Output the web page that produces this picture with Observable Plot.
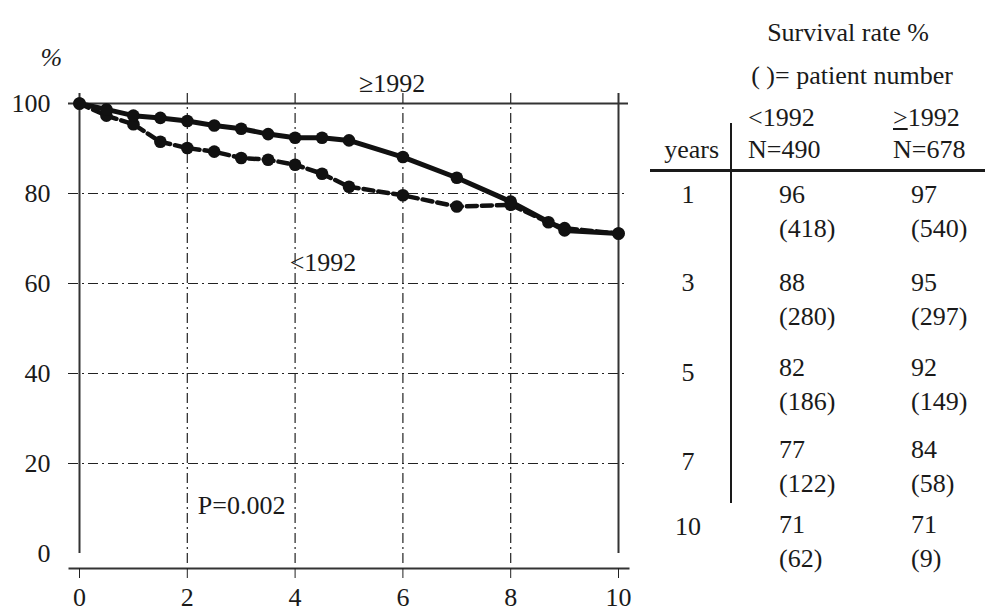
<!DOCTYPE html>
<html><head><meta charset="utf-8">
<script src="https://cdn.jsdelivr.net/npm/d3@7"></script>
<script src="https://cdn.jsdelivr.net/npm/@observablehq/plot@0.6"></script>
<style>
body{margin:0;background:#fff;}
#wrap{position:relative;width:985px;height:613px;font-family:"Liberation Serif","Times New Roman",serif;font-size:26px;color:#1a1a1a;overflow:hidden;}
#chart{position:absolute;left:0;top:0;}
#chart svg, #chart svg text{font-family:"Liberation Serif","Times New Roman",serif !important;}
.t{position:absolute;white-space:nowrap;line-height:1;}
.ln{position:absolute;background:#1a1a1a;}
</style></head><body><div id="wrap"><div id="chart"></div></div>
<script>
// ≥1992 group (solid line)
const yearsAfter = [0,0.5,1,1.5,2,2.5,3,3.5,4,4.5,5,6,7,8,9,10];
const survAfter  = [100,98.7,97.3,96.8,96.1,95.1,94.4,93.2,92.4,92.4,91.8,88.1,83.5,78.2,71.8,71.1];
// <1992 group (dashed line)
const yearsBefore = [0,0.5,1,1.5,2,2.5,3,3.5,4,4.5,5,6,7,8,8.7,9,10];
const survBefore  = [100,97.3,95.4,91.5,90.1,89.3,87.9,87.5,86.4,84.4,81.5,79.6,77.1,77.5,73.6,72.3,71.1];

const xTicks = [0,2,4,6,8,10];
const yTicks = [0,20,40,60,80,100];
const gridX = [2,4,6,8];
const gridY = [20,40,60,80];

// table
const tableYears   = [1,3,5,7,10];
const rateBefore   = [96,88,82,77,71];
const countBefore  = [418,280,186,122,62];
const rateAfter    = [97,95,92,84,71];
const countAfter   = [540,297,149,58,9];

const labelAfter  = [{x:5.8, y:104.4, label:"≥1992"}];
const labelBefore = [{x:3.9, y:64.7, label:"<1992"}];
const labelP      = [{x:3.82, y:10.7, label:"P=0.002"}];

const after = yearsAfter.map((t,i)=>({t, s:survAfter[i]}));
const before = yearsBefore.map((t,i)=>({t, s:survBefore[i]}));

const dashdot = "10,4,2,4";
const plot = Plot.plot({
  width:640, height:613,
  marginLeft:79, marginRight:22, marginTop:103, marginBottom:45,
  style:{fontFamily:"Liberation Serif, Times New Roman, serif", fontSize:"26px", color:"#1a1a1a", background:"white", overflow:"visible"},
  x:{domain:[0,10]},
  y:{domain:[-3.33,100]},
  marks:[
    Plot.ruleY(gridY,{stroke:"#222", strokeWidth:1.2, strokeDasharray:dashdot, insetLeft:-11, insetRight:-10}),
    Plot.ruleY([100],{stroke:"#333", strokeWidth:2, insetLeft:-11, insetRight:-10}),
    Plot.ruleX(gridX,{stroke:"#222", strokeWidth:1.2, strokeDasharray:dashdot, insetTop:-10, insetBottom:4}),
    Plot.ruleX([0,10],{stroke:"#333", strokeWidth:2, insetTop:-10, insetBottom:15}),
    Plot.frame({anchor:"bottom", stroke:"#333", strokeWidth:2, insetLeft:-10, insetRight:-10}),
    Plot.axisX({ticks:xTicks, tickSize:10, tickPadding:9, tickFormat:d=>String(d), label:null, stroke:"#222"}),
    Plot.axisY({ticks:yTicks, tickSize:0, tickPadding:29, tickFormat:d=>String(d), label:null}),
    Plot.text(["%"],{frameAnchor:"top-left", dx:-39, dy:-56, fontStyle:"italic"}),
    Plot.line(before,{x:"t", y:"s", stroke:"#111", strokeWidth:4.5, strokeDasharray:"10,5"}),
    Plot.dot(before,{x:"t", y:"s", r:6.3, fill:"#111"}),
    Plot.line(after,{x:"t", y:"s", stroke:"#111", strokeWidth:5}),
    Plot.dot(after,{x:"t", y:"s", r:6.3, fill:"#111"}),
    Plot.text(labelAfter,{x:"x", y:"y", text:"label", textAnchor:"middle", fill:"#1a1a1a"}),
    Plot.text(labelBefore,{x:"x", y:"y", text:"label", textAnchor:"start", fill:"#1a1a1a"}),
    Plot.text(labelP,{x:"x", y:"y", text:"label", textAnchor:"end", fill:"#1a1a1a"})
  ]
});
document.getElementById("chart").append(plot);

const wrap = document.getElementById("wrap");
function place(html, x, y, align){
  const d = document.createElement("div");
  d.className = "t";
  d.innerHTML = html;
  d.style.left = x + "px";
  d.style.top = y + "px";
  const tx = align==="center" ? "-50%" : align==="right" ? "-100%" : "0";
  d.style.transform = `translate(${tx},-50%)`;
  wrap.append(d);
}
function line(x,y,w,h){
  const d = document.createElement("div");
  d.className = "ln";
  Object.assign(d.style,{left:x+"px",top:y+"px",width:w+"px",height:h+"px"});
  wrap.append(d);
}
place("Survival rate %", 848, 33, "center");
place("(&nbsp;)= patient number", 852, 76, "center");
place("&lt;1992", 748, 118, "left");
place("N=490", 748, 150, "left");
place("<u>&gt;</u>1992", 893, 118, "left");
place("N=678", 893, 150, "left");
place("years", 719, 150, "right");
line(650,169,335,3);
line(730,123,2,380);
const rateY = [195,283,368,450,525];
const yearY = [195,283,373,462,527];
tableYears.forEach((yr,i)=>{
  place(String(yr), 688, yearY[i], "center");
  place(String(rateBefore[i]), 779, rateY[i], "left");
  place("(" + countBefore[i] + ")", 779, rateY[i]+34, "left");
  place(String(rateAfter[i]), 911, rateY[i], "left");
  place("(" + countAfter[i] + ")", 911, rateY[i]+34, "left");
});
</script></body></html>
